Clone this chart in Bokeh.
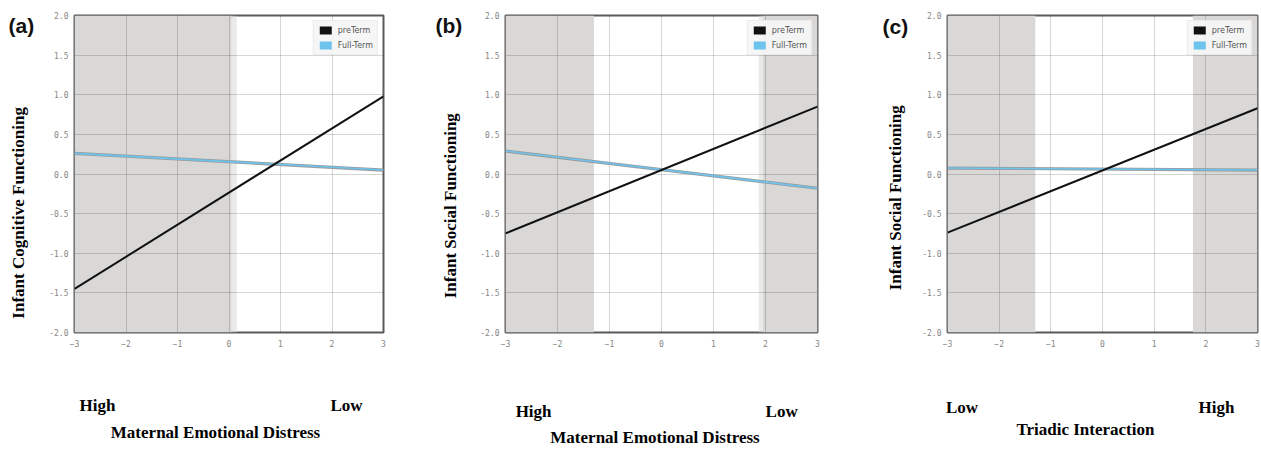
import math
from bokeh.plotting import figure
from bokeh.models import (ColumnDataSource, BoxAnnotation, Label, Legend,
                          LegendItem, Range1d, NumeralTickFormatter,
                          LinearAxis, FixedTicker)
from bokeh.layouts import row
from bokeh.embed import file_html
from bokeh.resources import INLINE

# ---------------- data ----------------
x_vals = [-3, 3]
x_ticks = [-3, -2, -1, 0, 1, 2, 3]
y_ticks = [-2.0, -1.5, -1.0, -0.5, 0.0, 0.5, 1.0, 1.5, 2.0]
series_names = ["preTerm", "Full-Term"]

a_pre = [-1.45, 0.98]
a_full = [0.26, 0.05]
b_pre = [-0.75, 0.85]
b_full = [0.29, -0.18]
c_pre = [-0.74, 0.83]
c_full = [0.075, 0.05]

# regions of significance (shaded), [start, end] on the x axis
a_shade = [(-3.0, 0.05)]
a_shade_edge = [(0.05, 0.15)]
b_shade = [(-3.0, -1.3), (1.95, 3.0)]
b_shade_edge = [(1.87, 1.95)]
c_shade = [(-3.0, -1.3), (1.75, 3.0)]
c_shade_edge = []

panel_tags = ["(a)", "(b)", "(c)"]
y_titles = ["Infant Cognitive Functioning", "Infant Social Functioning",
            "Infant Social Functioning"]
x_titles = ["Maternal Emotional Distress", "Maternal Emotional Distress",
            "Triadic Interaction"]
x_left_words = ["High", "High", "Low"]
x_right_words = ["Low", "Low", "High"]

PRE_COLOR = "#111111"
FULL_COLOR = "#6cc4ee"
SHADE = "#d9d8d7"
H = 449
TOP, BOTTOM = 15, 116
SERIF = "Liberation Serif"


def make_side(i, width, tag_pos, title_pos):
    s = figure(width=width, height=H, x_range=Range1d(0, width),
               y_range=Range1d(-2, 2), output_backend="svg",
               toolbar_location=None, x_axis_type=None, y_axis_type=None,
               min_border_left=0, min_border_right=0, min_border_top=TOP,
               min_border_bottom=BOTTOM)
    s.outline_line_color = None
    s.grid.visible = False
    s.add_layout(Label(x=tag_pos[0], y=tag_pos[1], text=panel_tags[i],
                       text_font="Liberation Sans", text_font_style="bold",
                       text_font_size="21px", text_align="left",
                       text_baseline="middle", text_color="#111111"))
    s.add_layout(Label(x=title_pos[0], y=title_pos[1], text=y_titles[i],
                       angle=math.pi / 2, text_font=SERIF,
                       text_font_style="bold", text_font_size="17px",
                       text_align="center", text_baseline="middle",
                       text_color="#000000"))
    return s


def make_panel(i, pre, full, shade, shade_edge, width, bl, br,
               word_x, title_x, so2, so3):
    p = figure(width=width, height=H, x_range=Range1d(-3, 3),
               y_range=Range1d(-2, 2), output_backend="svg",
               toolbar_location=None, min_border_left=bl,
               min_border_right=br, min_border_top=TOP,
               min_border_bottom=BOTTOM)
    p.outline_line_color = "#5a5a5a"
    p.outline_line_width = 2

    for s0, s1 in shade:
        p.add_layout(BoxAnnotation(left=s0, right=s1, fill_color=SHADE,
                                   fill_alpha=1.0, line_color=None,
                                   level="image"))
    for s0, s1 in shade_edge:
        p.add_layout(BoxAnnotation(left=s0, right=s1, fill_color=SHADE,
                                   fill_alpha=0.55, line_color=None,
                                   level="image"))

    p.xaxis.ticker = x_ticks
    p.yaxis.ticker = y_ticks
    p.yaxis.formatter = NumeralTickFormatter(format="0.0")
    for ax in (p.xaxis, p.yaxis):
        ax.axis_line_color = None
        ax.major_tick_line_color = None
        ax.minor_tick_line_color = None
        ax.major_tick_out = 0
        ax.major_tick_in = 0
        ax.major_label_text_font = "DejaVu Sans Mono"
        ax.major_label_text_font_size = "8px"
        ax.major_label_text_color = "#858585"
    p.xaxis.major_label_standoff = 7
    p.yaxis.major_label_standoff = 6

    # "High" / "Low" words under the axis ends
    ax2 = LinearAxis(ticker=FixedTicker(ticks=list(word_x)),
                     major_label_overrides={word_x[0]: x_left_words[i],
                                            word_x[1]: x_right_words[i]})
    # axis title
    ax3 = LinearAxis(ticker=FixedTicker(ticks=[title_x]),
                     major_label_overrides={title_x: x_titles[i]})
    for ax, so in ((ax2, so2), (ax3, so3)):
        ax.axis_line_color = None
        ax.major_tick_line_color = None
        ax.minor_tick_line_color = None
        ax.major_tick_out = 0
        ax.major_tick_in = 0
        ax.major_label_standoff = so
        ax.major_label_text_font = SERIF
        ax.major_label_text_font_style = "bold"
        ax.major_label_text_font_size = "17px"
        ax.major_label_text_color = "#000000"
        p.add_layout(ax, "below")

    p.xgrid.grid_line_color = "#000000"
    p.xgrid.grid_line_alpha = 0.16
    p.ygrid.grid_line_color = "#000000"
    p.ygrid.grid_line_alpha = 0.16

    src = ColumnDataSource(dict(x=x_vals, pre=pre, full=full))
    p.line("x", "full", source=src, line_color="#9a9a9a", line_width=3.2)
    p.line("x", "full", source=src, line_color=FULL_COLOR, line_width=1.6)
    p.line("x", "pre", source=src, line_color=PRE_COLOR, line_width=2)

    # zero-area quads used only as filled legend swatches
    sw_pre = p.quad(source=src, left="x", right="x", top="pre", bottom="pre",
                    fill_color=PRE_COLOR, line_color=None)
    sw_full = p.quad(source=src, left="x", right="x", top="full",
                     bottom="full", fill_color=FULL_COLOR, line_color=None)
    legend = Legend(items=[LegendItem(label=series_names[0], renderers=[sw_pre]),
                           LegendItem(label=series_names[1], renderers=[sw_full])],
                    location="top_right", glyph_width=15, glyph_height=10,
                    label_height=10, spacing=5, padding=4, margin=5,
                    label_standoff=5, label_text_font="DejaVu Sans",
                    label_text_font_size="8px", label_text_color="#555555",
                    background_fill_color="#f6f6f6", background_fill_alpha=0.95,
                    border_line_color="#e4e4e4")
    p.add_layout(legend)
    return p


sa = make_side(0, 40, (8, 1.87), (18, -0.49))
pa = make_panel(0, a_pre, a_full, a_shade, a_shade_edge, 381, 34, 38,
                (-2.553, 2.282), -0.262, 46, 5)
sb = make_side(1, 49, (14, 1.88), (29, -0.40))
pb = make_panel(1, b_pre, b_full, b_shade, b_shade_edge, 391, 35, 44,
                (-2.46, 2.31), -0.125, 52, 4)
sc = make_side(2, 54, (21, 1.86), (34, -0.30))
pc = make_panel(2, c_pre, c_full, c_shade, c_shade_edge, 346, 32, 4,
                (-2.72, 2.206), -0.33, 48, 0)

layout = row(sa, pa, sb, pb, sc, pc)
open("out.html", "w").write(file_html(layout, INLINE))
